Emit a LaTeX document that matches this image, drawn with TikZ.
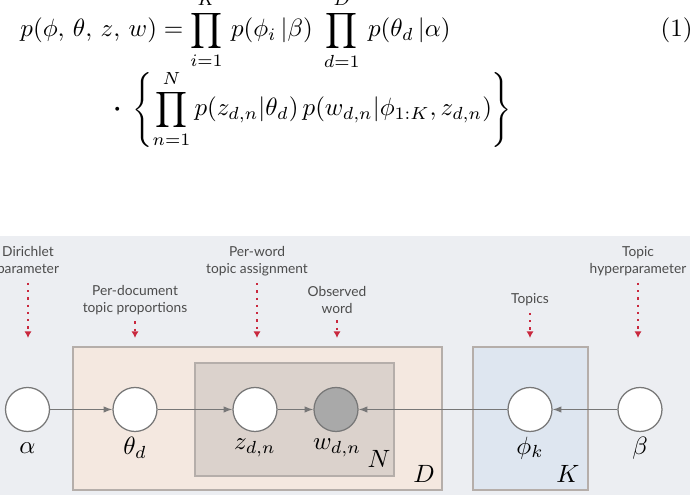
\documentclass[tikz,border=0pt]{standalone}
\usepackage{fontspec}
\setsansfont{Lato}
\usepackage{amsmath}
\usetikzlibrary{arrows.meta}
\definecolor{panel}{HTML}{ECEEF2}
\definecolor{docfill}{HTML}{F4E8E0}
\definecolor{wordfill}{HTML}{DBD2CC}
\definecolor{topicfill}{HTML}{DEE6F0}
\definecolor{plateedge}{HTML}{B5AEAA}
\definecolor{linegray}{HTML}{777777}
\definecolor{obsgray}{HTML}{A9A9A9}
\definecolor{notered}{HTML}{C9283E}
\definecolor{notegray}{HTML}{4C4C4C}

\begin{document}
\begin{tikzpicture}[x=0.4pt, y=-0.4pt,
                var/.style={circle, draw=linegray, fill=white, line width=0.5pt,
                            minimum size=17.6pt, inner sep=0pt},
                obs/.style={var, fill=obsgray},
                plate/.style={draw=plateedge, line width=0.6pt},
                note/.style={font=\sffamily\fontsize{5.5}{6.8}\selectfont,
                             text=notegray, align=center, inner sep=1pt},
                sym/.style={font=\normalsize, inner sep=0pt},
                edge/.style={-{Latex[length=3.5pt, width=2.6pt]}, draw=linegray, line width=0.5pt},
                pointer/.style={-{Latex[length=2.6pt, width=2.8pt]}, draw=notered,
                                line width=0.9pt, dotted},
            ]
                \useasboundingbox (0,0) rectangle (695,498);

                % Joint distribution
                \node[anchor=base west, inner sep=0pt] (eqtop) at (20,37)
                    {$\displaystyle p(\phi,\,\theta,\,z,\,w) = \prod_{i=1}^{K}\, p(\phi_i\,|\beta)\;
                      \prod_{d=1}^{D}\, p(\theta_d\,|\alpha)$};
                \node[anchor=base east, inner sep=0pt] (eqnum) at (693,37) {(1)};
                \node[anchor=base west, inner sep=0pt] (eqbot) at (113,116)
                    {$\displaystyle\boldsymbol{\cdot}\;\left\{\prod_{n=1}^{N} p(z_{d,n}|\theta_d)\,
                      p(w_{d,n}|\phi_{1:K}, z_{d,n})\right\}$};

                % Plates
                \fill[panel] (0,236) rectangle (690,495);
                \filldraw[plate, fill=docfill] (73,347) rectangle (442,490);
                \filldraw[plate, fill=wordfill] (195,363) rectangle (394,476);
                \filldraw[plate, fill=topicfill] (473,347) rectangle (588,490);

                % Variables
                \node[var] (alpha) at (27.5,409.5) {};
                \node[var] (theta) at (135,409.5) {};
                \node[var] (zdn) at (255,409.5) {};
                \node[obs] (wdn) at (336,409.5) {};
                \node[var] (phik) at (530,409.5) {};
                \node[var] (beta) at (640,409.5) {};

                \node[sym] (alphalbl) at (27.5,448) {$\alpha$};
                \node[sym] (thetalbl) at (135,448) {$\theta_d$};
                \node[sym] (zdnlbl) at (255,448) {$z_{d,n}$};
                \node[sym] (wdnlbl) at (337,448) {$w_{d,n}$};
                \node[sym] (phiklbl) at (530,448) {$\phi_k$};
                \node[sym] (betalbl) at (640,448) {$\beta$};

                \node[sym] (nlbl) at (379,459) {$N$};
                \node[sym] (dlbl) at (424,474) {$D$};
                \node[sym] (klbl) at (568,474) {$K$};

                \draw[edge] (alpha) -- (theta);
                \draw[edge] (theta) -- (zdn);
                \draw[edge] (zdn) -- (wdn);
                \draw[edge] (phik) -- (wdn);
                \draw[edge] (beta) -- (phik);

                % Annotations
                \node[note] (dirnote) at (28,261.5) {Dirichlet\\parameter};
                \node[note] (docnote) at (135,300) {Per-document\\topic proportions};
                \node[note] (assignnote) at (257,261.5) {Per-word\\topic assignment};
                \node[note] (obsnote) at (337,300) {Observed\\word};
                \node[note] (topicnote) at (530,300) {Topics};
                \node[note] (hypernote) at (638,261.5) {Topic\\hyperparameter};

                \coordinate (dirtip) at (28,338);
                \coordinate (doctip) at (135,338);
                \coordinate (assigntip) at (257,338);
                \coordinate (obstip) at (337,338);
                \coordinate (topictip) at (530,338);
                \coordinate (hypertip) at (638,338);

                \draw[pointer, shorten <=1.5pt] (dirnote) -- (dirtip);
                \draw[pointer, shorten <=1.5pt] (docnote) -- (doctip);
                \draw[pointer, shorten <=1.5pt] (assignnote) -- (assigntip);
                \draw[pointer, shorten <=1.5pt] (obsnote) -- (obstip);
                \draw[pointer, shorten <=1.5pt] (topicnote) -- (topictip);
                \draw[pointer, shorten <=1.5pt] (hypernote) -- (hypertip);
            \end{tikzpicture}
\end{document}
